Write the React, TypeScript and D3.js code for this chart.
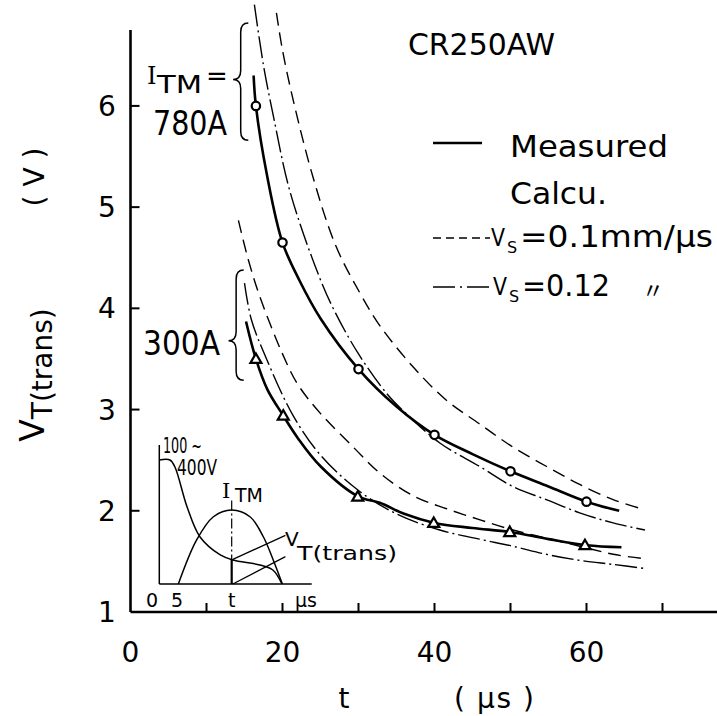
import React from "react";
import * as d3 from "d3";

// ---- data (t in µs, V_T in volts) ----
const meas780: [number, number][] = [
  [16.2, 6.3], [16.5, 6.0], [18, 5.3], [20, 4.65], [22.2, 4.28], [25, 3.9], [30, 3.4], [35, 3.03],
  [40, 2.75], [45, 2.56], [50, 2.39], [55, 2.24], [60, 2.09], [64.3, 2.0],
];
const pts780: [number, number][] = [[16.5, 6.0], [20, 4.65], [30, 3.4], [40, 2.75], [50, 2.39], [60, 2.09]];
const calc012_780: [number, number][] = [
  [16.3, 7.0], [17.5, 6.4], [18.8, 5.9], [21, 5.15], [24.9, 4.3], [27, 3.95], [30, 3.55], [33.7, 3.16],
  [36, 2.98], [40.7, 2.67], [45.9, 2.44], [50.3, 2.24], [54.7, 2.11], [59.1, 1.98], [63.5, 1.88], [67.7, 1.81],
];
const calc01_780: [number, number][] = [
  [19.2, 6.92], [20, 6.55], [21.4, 6.06], [24, 5.3], [27, 4.62], [30.2, 4.15], [32.8, 3.83], [37.2, 3.42],
  [41.6, 3.09], [45.9, 2.86], [50.3, 2.63], [54.7, 2.44], [59.1, 2.26], [63.5, 2.11], [66.8, 2.03],
];
const meas300: [number, number][] = [
  [15.2, 3.87], [16.5, 3.5], [18, 3.2], [20.1, 2.94], [22, 2.72], [25, 2.44], [30, 2.14], [32.8, 2.08],
  [36, 1.97], [40, 1.88], [45, 1.83], [50, 1.79], [55, 1.72], [60, 1.66], [64.6, 1.64],
];
const pts300: [number, number][] = [[16.5, 3.5], [20.1, 2.94], [29.9, 2.14], [39.9, 1.88], [49.9, 1.79], [59.8, 1.66]];
const calc012_300: [number, number][] = [
  [15.0, 4.25], [15.9, 3.89], [17.9, 3.5], [21.4, 2.94], [25, 2.55], [30, 2.2], [35, 1.97], [40.7, 1.81],
  [45.9, 1.72], [50.3, 1.65], [54.7, 1.57], [59.1, 1.51], [63.5, 1.47], [67.7, 1.43],
];
const calc01_300: [number, number][] = [
  [14.2, 4.87], [15.5, 4.48], [17, 4.12], [20, 3.55], [22, 3.25], [24.9, 2.97], [29.3, 2.63], [33, 2.36],
  [37.4, 2.14], [41.6, 2.02], [46, 1.91], [50.3, 1.81], [54.7, 1.73], [59.1, 1.65], [63.5, 1.57], [67.2, 1.53],
];
const xTicks = [10, 20, 30, 40, 50, 60, 70];
const xTickLabels = [0, 20, 40, 60];
const yTicks = [2, 3, 4, 5, 6];
const yTickLabels = [1, 2, 3, 4, 5, 6];

// inset schematic (t in µs-like units, normalized amplitude)
const insetVoltage: [number, number][] = [
  [0, 0.892], [2.8, 0.892], [4.1, 0.842], [7.3, 0.554], [10.7, 0.338], [16, 0.209], [19.3, 0.173],
  [26.4, 0.137], [29.8, 0.101], [32.2, 0],
];
const insetCurrent: [number, number][] = [
  [5, 0], [9.8, 0.317], [14.2, 0.484], [19, 0.532], [23.8, 0.484], [27.3, 0.34], [29.9, 0.173], [32.3, 0],
];

const FONT = "DejaVu Sans, sans-serif";

export default function App() {
  const x = d3.scaleLinear().domain([0, 77]).range([130.5, 715.7]);
  const y = d3.scaleLinear().domain([1, 6.75]).range([612, 30]);
  const xi = d3.scaleLinear().domain([0, 40]).range([159.3, 311.7]);
  const yi = d3.scaleLinear().domain([0, 1]).range([584, 445]);

  const line = d3
    .line<[number, number]>()
    .x((d) => x(d[0]))
    .y((d) => y(d[1]))
    .curve(d3.curveCatmullRom.alpha(0.5));
  const iline = d3
    .line<[number, number]>()
    .x((d) => xi(d[0]))
    .y((d) => yi(d[1]))
    .curve(d3.curveCatmullRom.alpha(0.5));

  const dashed = "13,7";
  const dashdot = "22,4,2,4";

  const brace = (tx: number, w: number, v0: number, vt: number, v1: number) => {
    const X = x(tx), W = x(tx + w) - x(tx);
    const y0 = y(v0), yt = y(vt), y1 = y(v1);
    const r = 9;
    const m = X + W / 2;
    return `M${X + W},${y0} Q${m},${y0} ${m},${y0 + r} L${m},${yt - r} Q${m},${yt} ${X},${yt} Q${m},${yt} ${m},${yt + r} L${m},${y1 - r} Q${m},${y1} ${X + W},${y1}`;
  };

  const tri = (cx: number, cy: number) => `M${cx},${cy - 5.5} L${cx + 5.5},${cy + 4} L${cx - 5.5},${cy + 4} Z`;

  return (
    <div style={{ position: "absolute", left: 0, top: 0, width: 717, height: 716, background: "#fff" }}>
      <svg width={717} height={716} style={{ display: "block" }} fontFamily={FONT}>
        <rect width={717} height={716} fill="#fff" />
        {/* axes */}
        <line x1={x(0)} x2={x(0)} y1={y(6.75)} y2={y(1)} stroke="#000" strokeWidth={2.6} />
        <line x1={x(0)} x2={717} y1={y(1)} y2={y(1)} stroke="#000" strokeWidth={2.6} />
        {xTicks.map((t) => (
          <line key={"xt" + t} x1={x(t)} x2={x(t)} y1={y(1)} y2={y(1) - 9} stroke="#000" strokeWidth={2} />
        ))}
        {yTicks.map((v) => (
          <line key={"yt" + v} x1={x(0)} x2={x(0) + 9} y1={y(v)} y2={y(v)} stroke="#000" strokeWidth={2} />
        ))}
        {xTickLabels.map((t) => (
          <text key={"xl" + t} x={x(t)} y={662} fontSize={28} textAnchor="middle">{t}</text>
        ))}
        {yTickLabels.map((v) => (
          <text key={"yl" + v} x={107} y={y(v) + 10} fontSize={28} textAnchor="middle">{v}</text>
        ))}
        <text x={344} y={708} fontSize={28} textAnchor="middle">t</text>
        <text x={494} y={708} fontSize={28} textAnchor="middle" textLength={80} lengthAdjust="spacing">( μs )</text>
        <g transform="translate(44,375) rotate(-90)">
          <text x={0} y={0} textAnchor="middle" fontSize={33}>
            V<tspan fontSize={28} dy={8}>T(trans)</tspan>
          </text>
        </g>
        <g transform="translate(44,177) rotate(-90)">
          <text x={0} y={0} textAnchor="middle" fontSize={28}>( V )</text>
        </g>

        {/* curves */}
        <path d={line(calc01_780) || ""} fill="none" stroke="#000" strokeWidth={1.4} strokeDasharray={dashed} />
        <path d={line(calc012_780) || ""} fill="none" stroke="#000" strokeWidth={1.4} strokeDasharray={dashdot} />
        <path d={line(meas780) || ""} fill="none" stroke="#000" strokeWidth={2.6} />
        <path d={line(calc01_300) || ""} fill="none" stroke="#000" strokeWidth={1.4} strokeDasharray={dashed} />
        <path d={line(calc012_300) || ""} fill="none" stroke="#000" strokeWidth={1.4} strokeDasharray={dashdot} />
        <path d={line(meas300) || ""} fill="none" stroke="#000" strokeWidth={2.6} />
        {pts780.map((d, i) => (
          <circle key={"c" + i} cx={x(d[0])} cy={y(d[1])} r={4.2} fill="#fff" stroke="#000" strokeWidth={2.2} />
        ))}
        {pts300.map((d, i) => (
          <path key={"tr" + i} d={tri(x(d[0]), y(d[1]))} fill="#fff" stroke="#000" strokeWidth={2.2} />
        ))}

        {/* braces and group labels */}
        <path d={brace(13.5, 2, 6.82, 6.26, 5.66)} fill="none" stroke="#000" strokeWidth={1.5} />
        <path d={brace(12.9, 2, 4.38, 3.68, 3.29)} fill="none" stroke="#000" strokeWidth={1.5} />
        <text x={147} y={84} fontSize={24} fontFamily="DejaVu Serif, serif">I</text>
        <text x={157} y={93} fontSize={24} textLength={45} lengthAdjust="spacingAndGlyphs">TM</text>
        <text x={206} y={85} fontSize={26}>=</text>
        <text x={153} y={135} fontSize={33} textLength={74} lengthAdjust="spacingAndGlyphs">780A</text>
        <text x={143} y={355} fontSize={33} textLength={77} lengthAdjust="spacingAndGlyphs">300A</text>

        {/* legend */}
        <text x={408} y={55} fontSize={30} textLength={147} lengthAdjust="spacingAndGlyphs">CR250AW</text>
        <line x1={433} x2={482} y1={143} y2={143} stroke="#000" strokeWidth={2.6} />
        <text x={510} y={157} fontSize={31} textLength={158} lengthAdjust="spacingAndGlyphs">Measured</text>
        <text x={510} y={204} fontSize={31} textLength={97} lengthAdjust="spacingAndGlyphs">Calcu.</text>
        <line x1={433} x2={490} y1={238} y2={238} stroke="#000" strokeWidth={1.4} strokeDasharray="8,5" />
        <text x={491} y={246} fontSize={25} textLength={14} lengthAdjust="spacingAndGlyphs">V</text>
        <text x={507} y={253} fontSize={16}>S</text>
        <text x={520} y={247} fontSize={30} textLength={193} lengthAdjust="spacingAndGlyphs">=0.1mm/μs</text>
        <line x1={433} x2={492} y1={287} y2={287} stroke="#000" strokeWidth={1.4} strokeDasharray="22,5,2,5" />
        <text x={493} y={295} fontSize={25} textLength={14} lengthAdjust="spacingAndGlyphs">V</text>
        <text x={509} y={302} fontSize={16}>S</text>
        <text x={522} y={296} fontSize={30} textLength={88} lengthAdjust="spacingAndGlyphs">=0.12</text>
        <text x={653} y={298} fontSize={22} textAnchor="middle" fontFamily="Noto Sans CJK JP, sans-serif">〃</text>

        {/* inset schematic */}
        <line x1={xi(0)} x2={xi(0)} y1={yi(1)} y2={yi(0)} stroke="#000" strokeWidth={1.5} />
        <line x1={xi(0)} x2={xi(40)} y1={yi(0)} y2={yi(0)} stroke="#000" strokeWidth={1.5} />
        <path d={iline(insetVoltage) || ""} fill="none" stroke="#000" strokeWidth={1.5} />
        <path d={iline(insetCurrent) || ""} fill="none" stroke="#000" strokeWidth={1.5} />
        <line x1={xi(19)} x2={xi(19)} y1={yi(0.6)} y2={yi(0.173)} stroke="#000" strokeWidth={1.2} strokeDasharray="10,3,2,3" />
        <line x1={xi(19)} x2={xi(19)} y1={yi(0.173)} y2={yi(0)} stroke="#000" strokeWidth={2.2} />
        <line x1={xi(19.3)} x2={xi(33.1)} y1={yi(0.177)} y2={yi(0.35)} stroke="#000" strokeWidth={1.3} />
        <line x1={xi(19.3)} x2={xi(33.1)} y1={yi(0)} y2={yi(0.197)} stroke="#000" strokeWidth={1.3} />
        <text x={163} y={453} fontSize={21} textLength={39} lengthAdjust="spacingAndGlyphs">100 ~</text>
        <text x={177} y={475} fontSize={21} textLength={40} lengthAdjust="spacingAndGlyphs">400V</text>
        <text x={222} y={498} fontSize={21} fontFamily="DejaVu Serif, serif">I</text>
        <text x={235} y={502} fontSize={20} textLength={28} lengthAdjust="spacingAndGlyphs">TM</text>
        <text x={285} y={546} fontSize={20}>V</text>
        <text x={297} y={560} fontSize={20} textLength={100} lengthAdjust="spacingAndGlyphs">T(trans)</text>
        <text x={152} y={607} fontSize={19} textAnchor="middle">0</text>
        <text x={177} y={607} fontSize={19} textAnchor="middle">5</text>
        <text x={xi(19)} y={607} fontSize={19} textAnchor="middle">t</text>
        <text x={306} y={607} fontSize={19} textAnchor="middle">μs</text>
      </svg>
    </div>
  );
}
